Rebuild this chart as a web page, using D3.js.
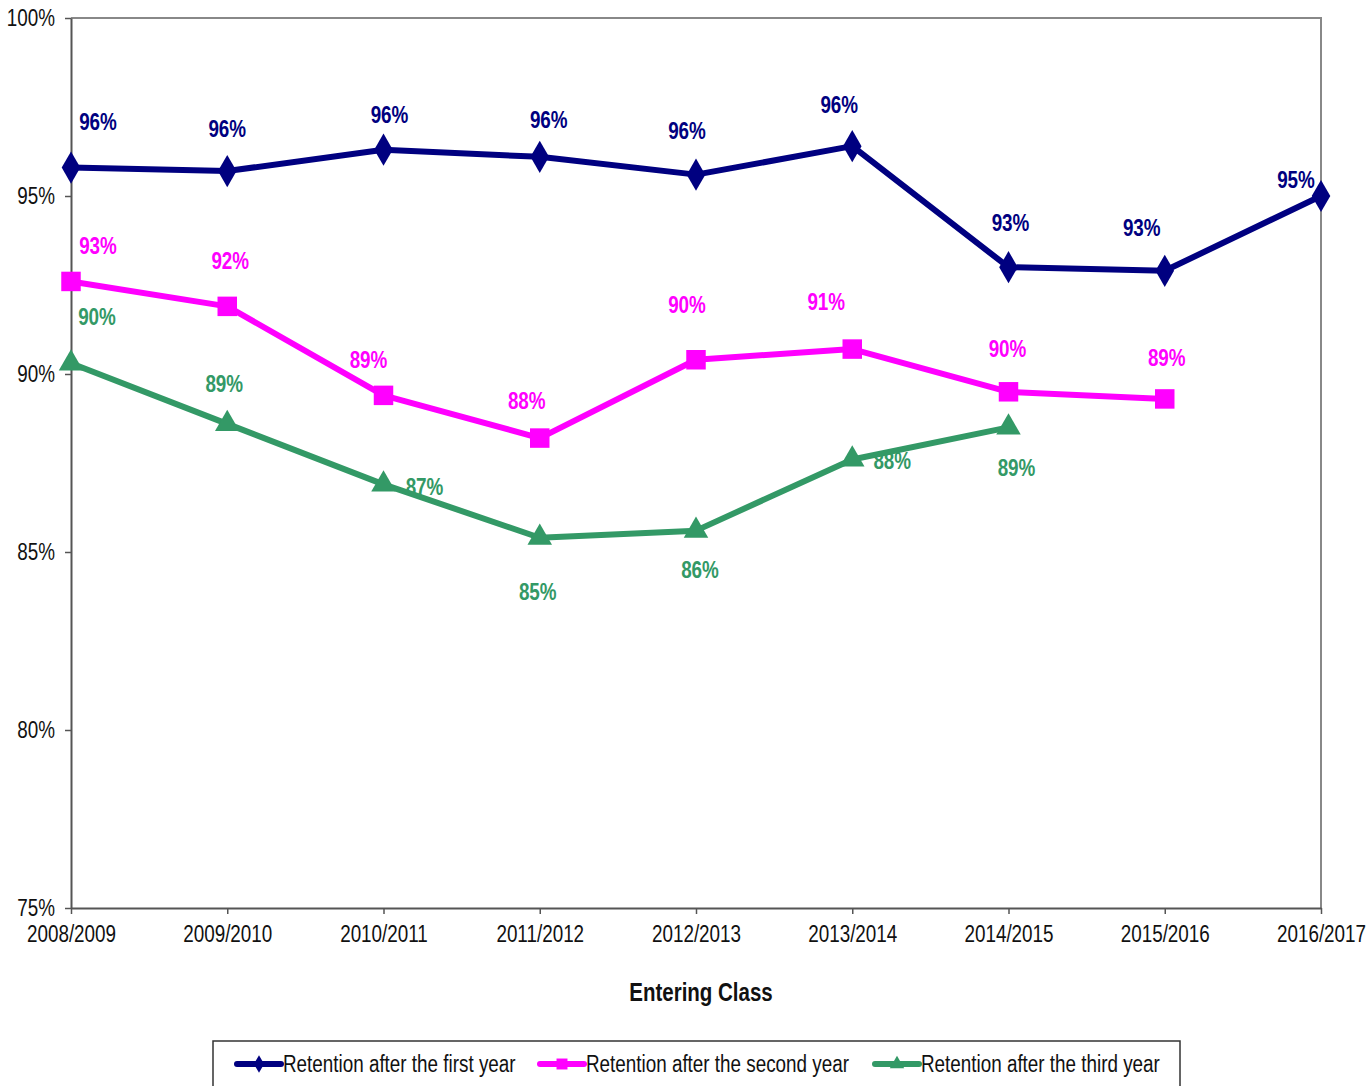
<!DOCTYPE html>
<html>
<head>
<meta charset="utf-8">
<script src="https://cdn.jsdelivr.net/npm/d3@7"></script>
<style>
  body { margin: 0; background: #fff; }
  text { font-family: "Liberation Sans", Arial, sans-serif; }
</style>
</head>
<body>
<div id="chart"></div>
<script>
// Entering classes (x axis)
var classes = ["2008/2009", "2009/2010", "2010/2011", "2011/2012", "2012/2013",
               "2013/2014", "2014/2015", "2015/2016", "2016/2017"];

// Retention values, in percent
var firstYear  = [95.8, 95.7, 96.3, 96.1, 95.6, 96.4, 93.0, 92.9, 95.0];
var secondYear = [92.6, 91.9, 89.4, 88.2, 90.4, 90.7, 89.5, 89.3];
var thirdYear  = [90.3, 88.6, 86.9, 85.4, 85.6, 87.6, 88.5];

var yTicks = [75, 80, 85, 90, 95, 100];

var seriesNames = ["Retention after the first year",
                   "Retention after the second year",
                   "Retention after the third year"];

// where each data label sits relative to its point (px)
var labelShift = [
    [[27,-46],[0,-42],[6,-35],[9,-37],[-9,-44],[-13,-41],[2,-44],[-23,-43],[-25,-16]],
    [[27,-36],[3,-46],[-15,-36],[-13,-37],[-9,-55],[-26,-47],[-1,-43],[2,-41]],
    [[26,-47],[-3,-40],[41,2],[-2,54],[4,39],[40,1],[8,40]]
];

var colors = ["#000080", "#ff00ff", "#339966"];
var symbols = [d3.symbolDiamond, d3.symbolSquare, d3.symbolTriangle];

var W = 1368, H = 1086;
var margin = {top: 18, right: 47, bottom: 178, left: 71};
var width = W - margin.left - margin.right,
    height = H - margin.top - margin.bottom;

// no narrow font around, so squeeze text horizontally
var SQ = 0.82;
function narrow(sel) {
    sel.each(function() {
        var t = d3.select(this);
        var tx = +t.attr("x") || 0, ty = +t.attr("y") || 0;
        t.attr("x", 0).attr("y", 0)
         .attr("transform", "translate(" + tx + "," + ty + ") scale(" + SQ + ",1)");
    });
}

var svg = d3.select("#chart").append("svg")
    .attr("width", W)
    .attr("height", H);

var g = svg.append("g")
    .attr("transform", "translate(" + margin.left + "," + margin.top + ")");

var x = d3.scalePoint().domain(classes).range([0, width]);
var y = d3.scaleLinear().domain([75, 100]).range([height, 0]);

// frame on top and right
g.append("path")
    .attr("d", "M0,0H" + width + "V" + height)
    .attr("fill", "none")
    .attr("stroke", "#888")
    .attr("stroke-width", 2);

// y axis
var yAxis = g.append("g")
    .call(d3.axisLeft(y).tickValues(yTicks).tickSize(6).tickSizeOuter(0)
        .tickFormat(function(d) { return d + "%"; }));
yAxis.select(".domain").attr("stroke", "#555").attr("stroke-width", 2);
yAxis.selectAll(".tick line").attr("stroke", "#555").attr("stroke-width", 1.5);
yAxis.selectAll(".tick text")
    .attr("x", -16)
    .attr("fill", "#111")
    .style("font-size", "23px")
    .call(narrow);

// x axis
var xAxis = g.append("g")
    .attr("transform", "translate(0," + height + ")")
    .call(d3.axisBottom(x).tickSize(6).tickSizeOuter(0));
xAxis.select(".domain").attr("stroke", "#555").attr("stroke-width", 2);
xAxis.selectAll(".tick line").attr("stroke", "#555").attr("stroke-width", 1.5);
xAxis.selectAll(".tick text")
    .attr("y", 18)
    .attr("fill", "#111")
    .style("font-size", "23px")
    .call(narrow);

g.append("text")
    .attr("x", width / 2 + 5)
    .attr("y", height + 93)
    .attr("text-anchor", "middle")
    .attr("fill", "#111")
    .style("font-size", "25px")
    .style("font-weight", "bold")
    .text("Entering Class")
    .call(narrow);

var line = d3.line()
    .x(function(d, i) { return x(classes[i]); })
    .y(function(d) { return y(d); });

var allSeries = [firstYear, secondYear, thirdYear];

// draw lines back to front so first year is on top
[2, 1, 0].forEach(function(s) {
    var data = allSeries[s];
    var sg = g.append("g");
    sg.append("path")
        .attr("d", line(data))
        .attr("fill", "none")
        .attr("stroke", colors[s])
        .attr("stroke-width", 6)
        .attr("stroke-linejoin", "round");
    sg.selectAll(".pt").data(data).enter().append("path")
        .attr("transform", function(d, i) {
            return "translate(" + x(classes[i]) + "," + y(d) + ")";
        })
        .attr("d", d3.symbol().type(symbols[s]).size(s == 0 ? 300 : s == 1 ? 380 : 260))
        .attr("fill", colors[s]);
});

allSeries.forEach(function(data, s) {
    g.selectAll(null).data(data).enter().append("text")
        .attr("x", function(d, i) { return x(classes[i]) + labelShift[s][i][0]; })
        .attr("y", function(d, i) { return y(d) + labelShift[s][i][1]; })
        .attr("text-anchor", "middle")
        .attr("dominant-baseline", "central")
        .attr("fill", colors[s])
        .style("font-size", "23px")
        .style("font-weight", "bold")
        .text(function(d) { return Math.round(d) + "%"; })
        .call(narrow);
});

// legend
var lg = svg.append("g").attr("transform", "translate(213,1041)");
lg.append("rect")
    .attr("width", 967).attr("height", 50)
    .attr("fill", "#fff").attr("stroke", "#333").attr("stroke-width", 1.5);

var legendX = [24, 327, 662];
seriesNames.forEach(function(name, s) {
    var item = lg.append("g").attr("transform", "translate(" + legendX[s] + ",23)");
    item.append("line")
        .attr("x1", 0).attr("x2", 44)
        .attr("stroke", colors[s]).attr("stroke-width", 6)
        .attr("stroke-linecap", "round");
    item.append("path")
        .attr("transform", "translate(22,0)")
        .attr("d", d3.symbol().type(symbols[s]).size(s == 1 ? 120 : 90))
        .attr("fill", colors[s]);
    item.append("text")
        .attr("x", 46)
        .attr("dominant-baseline", "central")
        .attr("fill", "#111")
        .style("font-size", "23px")
        .text(name)
        .call(narrow);
});
</script>
</body>
</html>
